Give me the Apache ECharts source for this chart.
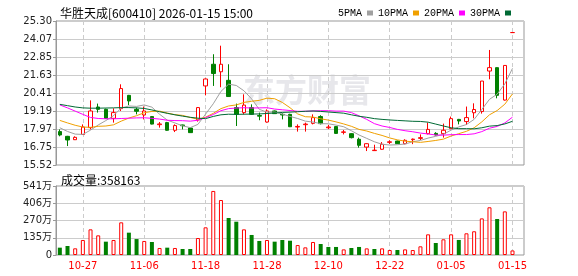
<!DOCTYPE html>
<html>
<head>
<meta charset="utf-8">
<script src="https://cdn.jsdelivr.net/npm/echarts@6/dist/echarts.min.js"></script>
<style>
html, body { margin: 0; padding: 0; background: #fff; }
#kline { width: 578px; height: 276px; }
</style>
</head>
<body>
<div id="kline"></div>
<script>
// trading days shown (last slot is left empty, as in the original)
const dates = [
  '10-22','10-23','10-24','10-27','10-28','10-29','10-30','10-31',
  '11-03','11-04','11-05','11-06','11-07','11-10','11-11','11-12','11-13','11-14',
  '11-17','11-18','11-19','11-20','11-21','11-24','11-25','11-26','11-27','11-28',
  '12-01','12-02','12-03','12-04','12-05','12-08','12-09','12-10','12-11','12-12',
  '12-15','12-16','12-17','12-18','12-19','12-22','12-23','12-24','12-25','12-26',
  '12-29','12-30','12-31','01-05','01-06','01-07','01-08','01-09',
  '01-12','01-13','01-14','01-15',''
];
const labelDates = ['10-27','11-06','11-18','11-28','12-10','12-22','01-05','01-15'];

const open = [17.79,17.47,17.24,17.60,18.06,19.46,19.30,18.69,19.35,20.25,
  19.30,18.92,18.81,18.26,18.40,17.88,18.24,18.03,18.58,20.89,
  22.36,21.85,21.27,19.42,19.08,19.42,18.88,18.44,19.19,18.96,
  18.96,18.10,18.26,18.35,18.81,18.05,18.13,17.74,17.65,17.27,
  16.74,16.50,16.59,17.06,17.15,16.97,17.24,17.33,17.65,17.67,
  17.65,17.99,18.62,18.47,19.07,19.15,21.90,22.13,19.93,24.51];
const close = [17.56,17.22,17.40,18.10,19.19,19.30,18.69,19.08,20.71,19.87,
  19.17,19.19,18.30,18.31,17.88,18.20,18.19,17.72,19.42,21.36,
  21.73,22.36,20.17,18.96,19.59,18.96,18.84,19.19,19.01,18.92,
  18.12,18.14,18.30,18.74,18.33,18.10,17.67,17.77,17.38,16.86,
  16.97,16.53,16.93,17.10,16.97,17.20,17.28,17.38,17.94,17.56,
  17.88,18.67,18.51,18.74,19.29,21.22,22.13,20.25,22.28,24.51];
const low = [17.47,16.81,17.22,17.58,17.94,19.08,18.65,18.40,19.19,19.59,
  18.96,18.62,18.28,18.06,17.85,17.76,17.94,17.70,18.47,20.25,
  20.89,20.80,20.15,18.17,18.96,18.92,18.56,18.40,18.99,18.62,
  18.10,17.79,17.79,18.28,18.28,17.96,17.64,17.60,17.33,16.70,
  16.47,16.48,16.57,16.95,16.95,16.93,16.94,17.22,17.60,17.53,
  17.38,17.96,18.28,18.24,18.69,19.01,21.34,20.05,19.90,24.51];
const high = [17.94,17.50,17.47,18.28,19.91,19.69,19.35,19.37,21.00,20.28,
  19.42,19.49,18.85,18.44,18.45,18.28,18.26,18.05,19.45,21.40,
  23.04,23.62,22.36,19.69,20.32,19.64,19.08,19.30,19.22,19.03,
  19.00,18.28,18.40,18.96,18.90,18.25,18.16,17.90,17.68,17.38,
  17.00,16.90,17.08,17.20,17.18,17.27,17.32,17.60,18.40,17.75,
  18.33,18.81,18.65,19.49,19.71,21.22,23.33,22.15,22.28,24.51];

const volume = [575000,706000,523000,1176000,2010000,1540000,1045000,1176000,2560000,1750000,
  1250000,1100000,1020000,550000,575000,550000,470000,470000,1330000,2170000,
  5020000,4310000,2900000,2610000,2010000,1570000,1100000,1176000,1045000,1176000,
  1120000,780000,600000,1020000,860000,630000,630000,440000,550000,630000,
  520000,470000,520000,390000,390000,440000,390000,680000,1620000,940000,
  1230000,1620000,1180000,1700000,1860000,2870000,3740000,2820000,3420000,358163];

const ma5 = [18.05,17.80,17.62,17.60,17.89,18.24,18.54,18.87,19.39,19.53,
  19.50,19.60,19.45,18.97,18.57,18.38,18.18,18.06,18.28,18.98,
  19.68,20.52,21.01,20.92,20.56,20.01,19.30,19.11,19.12,18.98,
  18.82,18.68,18.50,18.44,18.33,18.32,18.23,18.12,17.85,17.56,
  17.33,17.10,16.93,16.88,16.90,16.95,17.10,17.19,17.35,17.47,
  17.61,17.89,18.11,18.27,18.62,19.29,19.98,20.33,21.03,22.08];
const ma10 = [18.55,18.38,18.22,18.10,18.08,18.15,18.17,18.25,18.50,18.71,
  18.87,19.07,19.16,19.18,19.05,18.94,18.89,18.75,18.63,18.77,
  19.03,19.35,19.53,19.60,19.77,19.85,19.91,20.06,20.02,19.77,
  19.41,18.99,18.80,18.78,18.66,18.57,18.45,18.31,18.15,17.94,
  17.83,17.67,17.53,17.36,17.23,17.14,17.10,17.06,17.12,17.19,
  17.28,17.49,17.65,17.81,18.05,18.45,18.93,19.22,19.65,20.35];
const ma20 = [19.60,19.40,19.18,18.96,18.75,18.68,18.66,18.66,18.68,18.70,
  18.72,18.73,18.69,18.64,18.56,18.54,18.53,18.50,18.56,18.74,
  18.95,19.21,19.35,19.39,19.41,19.39,19.40,19.41,19.32,19.27,
  19.22,19.17,19.17,19.19,19.21,19.21,19.18,19.18,19.08,18.86,
  18.62,18.33,18.17,18.07,17.94,17.85,17.78,17.69,17.63,17.56,
  17.55,17.58,17.59,17.59,17.64,17.79,18.02,18.14,18.38,18.77];
const ma30 = [19.64,19.55,19.46,19.40,19.38,19.38,19.39,19.40,19.42,19.42,
  19.40,19.36,19.26,19.14,19.03,18.93,18.84,18.76,18.70,18.67,
  18.82,18.93,18.97,18.96,18.97,18.98,18.99,19.02,19.05,19.09,
  19.11,19.14,19.17,19.19,19.16,19.12,19.08,19.04,18.93,18.83,
  18.76,18.67,18.62,18.58,18.55,18.52,18.49,18.48,18.43,18.30,
  18.17,18.05,17.99,17.99,17.98,18.05,18.16,18.20,18.31,18.49];

// axis ranges as printed on the picture
const priceMin = 15.524;
const priceStep = 1.22145;
const volMax = 5408000;

const RED = '#ff0000';
const GREEN = '#008000';

const candles = open.map((o, i) => [o, close[i], low[i], high[i]]);
const volBars = volume.map((v, i) => {
  const prev = i === 0 ? open[0] : close[i - 1];
  const up = close[i] > prev;
  return {
    value: v,
    itemStyle: up
      ? { color: '#fff', borderColor: RED, borderWidth: 1 }
      : { color: GREEN, borderColor: GREEN, borderWidth: 0 }
  };
});

const showDate = (idx, val) => labelDates.indexOf(val) >= 0;

const chart = echarts.init(document.getElementById('kline'));

const lineStyle = (c) => ({ color: c, width: 1 });

chart.setOption({
  animation: false,
  backgroundColor: '#fff',
  title: [
    {
      text: '华胜天成[600410] 2026-01-15 15:00',
      left: 55, top: 2,
      textStyle: { fontSize: 12, fontWeight: 'normal', color: '#000', fontFamily: 'Noto Sans CJK SC' }
    },
    {
      text: '成交量:' + volume[volume.length - 1],
      left: 56, top: 169,
      textStyle: { fontSize: 12, fontWeight: 'normal', color: '#000', fontFamily: 'Noto Sans CJK SC' }
    }
  ],
  legend: {
    data: ['5PMA', '10PMA', '20PMA', '30PMA'],
    right: 62, top: 3,
    align: 'right',
    icon: 'rect',
    itemWidth: 6, itemHeight: 5, itemGap: 5,
    textStyle: { fontSize: 10, color: '#000', fontFamily: 'Liberation Mono' }
  },
  graphic: [{
    type: 'text',
    left: 243, top: 74,
    z: -1,
    style: {
      text: '东方财富',
      fontSize: 32, fontWeight: 'bold',
      fontFamily: 'Noto Sans CJK SC',
      fill: '#e7e7eb'
    }
  }],
  grid: [
    { left: 56, top: 21, width: 468, height: 144, show: true, borderColor: '#999', borderWidth: 1 },
    { left: 56, top: 186, width: 468, height: 69, show: true, borderColor: '#999', borderWidth: 1 }
  ],
  xAxis: [
    {
      type: 'category', gridIndex: 0, data: dates,
      axisLine: { show: false }, axisTick: { show: false }, axisLabel: { show: false },
      splitLine: { show: true, interval: showDate, alignWithLabel: true,
        lineStyle: { color: '#ccc', type: [4, 3] } }
    },
    {
      type: 'category', gridIndex: 1, data: dates,
      axisLine: { show: false }, axisTick: { show: false },
      axisLabel: { interval: showDate, color: RED, fontSize: 10, fontFamily: 'DejaVu Sans', margin: 6 },
      splitLine: { show: true, interval: showDate, alignWithLabel: true,
        lineStyle: { color: '#ccc', type: [4, 3] } }
    }
  ],
  yAxis: [
    {
      type: 'value', gridIndex: 0,
      min: priceMin, max: priceMin + 8 * priceStep, interval: priceStep,
      axisLine: { show: true, lineStyle: { color: '#999' } },
      axisTick: { show: true, length: 3, lineStyle: { color: '#999' } },
      axisLabel: { formatter: v => v.toFixed(2), color: '#222', fontSize: 10, fontFamily: 'DejaVu Sans', margin: 4 },
      splitLine: { lineStyle: { color: '#ccc' } }
    },
    {
      type: 'value', gridIndex: 1,
      min: 0, max: volMax, interval: volMax / 4,
      axisLine: { show: true, lineStyle: { color: '#999' } },
      axisTick: { show: true, length: 3, lineStyle: { color: '#999' } },
      axisLabel: {
        formatter: v => v === 0 ? '0' : Math.round(v / 10000) + '万',
        color: '#222', fontSize: 10, fontFamily: "'DejaVu Sans', 'Noto Sans CJK SC'", margin: 4
      },
      splitLine: { lineStyle: { color: '#ccc' } }
    }
  ],
  series: [
    {
      type: 'candlestick', name: 'K', xAxisIndex: 0, yAxisIndex: 0,
      data: candles, barWidth: 4,
      itemStyle: {
        color: '#fff', borderColor: RED,
        color0: GREEN, borderColor0: GREEN,
        borderColorDoji: RED, borderWidth: 1
      }
    },
    { type: 'line', name: '5PMA', data: ma5, showSymbol: false, symbol: 'none', lineStyle: lineStyle('#a0a0a0'), itemStyle: { color: '#a0a0a0' } },
    { type: 'line', name: '10PMA', data: ma10, showSymbol: false, symbol: 'none', lineStyle: lineStyle('#f0a000'), itemStyle: { color: '#f0a000' } },
    { type: 'line', name: '20PMA', data: ma20, showSymbol: false, symbol: 'none', lineStyle: lineStyle('#ff00ff'), itemStyle: { color: '#ff00ff' } },
    { type: 'line', name: '30PMA', data: ma30, showSymbol: false, symbol: 'none', lineStyle: lineStyle('#006a35'), itemStyle: { color: '#006a35' } },
    {
      type: 'bar', name: 'VOL', xAxisIndex: 1, yAxisIndex: 1,
      data: volBars, barWidth: 4
    }
  ]
});
</script>
</body>
</html>
